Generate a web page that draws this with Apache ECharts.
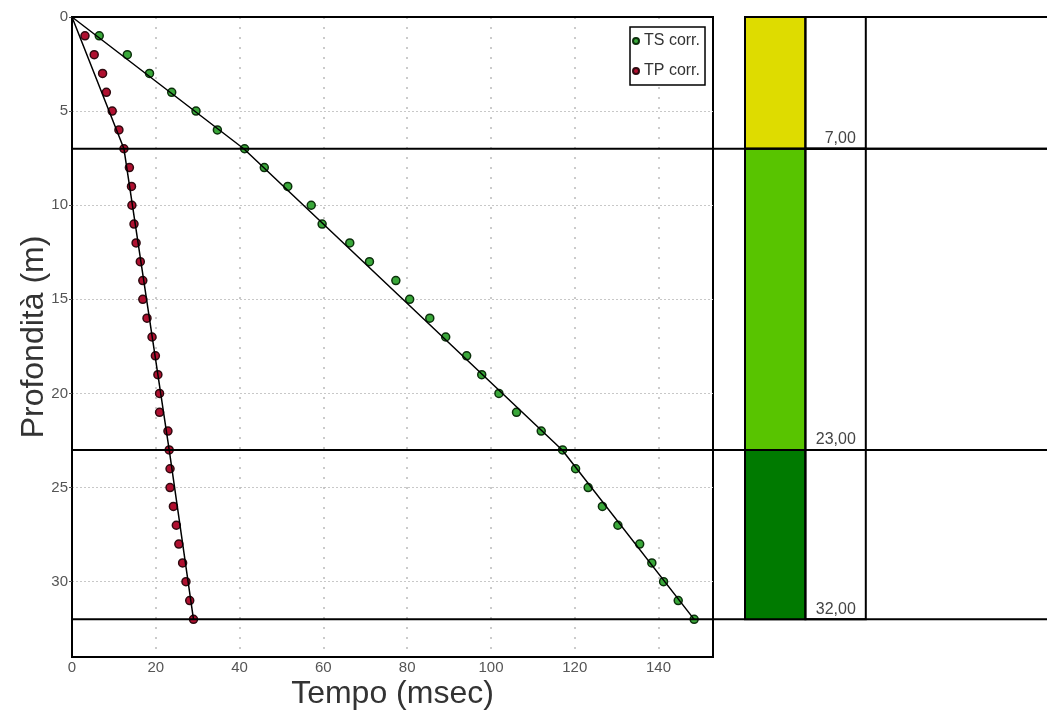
<!DOCTYPE html>
<html>
<head>
<meta charset="utf-8">
<script src="https://cdn.jsdelivr.net/npm/echarts@6/dist/echarts.min.js"></script>
<style>
  html, body { margin: 0; padding: 0; background: #fff; }
  #chart { width: 1047px; height: 713px; }
</style>
</head>
<body>
<div id="chart"></div>
<script>
// Depth of each reading (m)
const depths = [1, 2, 3, 4, 5, 6, 7, 8, 9, 10, 11, 12, 13, 14, 15, 16,
    17, 18, 19, 20, 21, 22, 23, 24, 25, 26, 27, 28, 29, 30, 31, 32];
// Corrected S-wave arrival times (msec)
const tsTimes = [6.5, 13.2, 18.5, 23.8, 29.6, 34.7, 41.2, 45.9, 51.5, 57.1, 59.7, 66.3,
    71.0, 77.3, 80.6, 85.4, 89.2, 94.2, 97.8, 101.9, 106.1, 112.0, 117.1, 120.2,
    123.2, 126.6, 130.3, 135.5, 138.4, 141.2, 144.7, 148.5];
// Corrected P-wave arrival times (msec)
const tpTimes = [3.1, 5.3, 7.3, 8.2, 9.6, 11.2, 12.4, 13.7, 14.2, 14.3, 14.8, 15.3,
    16.3, 16.9, 16.9, 17.9, 19.1, 19.9, 20.5, 20.9, 20.9, 22.9, 23.2, 23.4,
    23.4, 24.2, 24.9, 25.5, 26.4, 27.2, 28.1, 29.0];
// Fitted travel-time polylines: [time, depth]
const tsFit = [[0, 0], [41, 7], [117, 23], [148.5, 32]];
const tpFit = [[0, 0], [12.4, 7], [23.2, 23], [29, 32]];
// Layers (m)
const layerTops = [0, 7, 23];
const layerBottoms = [7, 23, 32];
const layerLabels = ['7,00', '23,00', '32,00'];

const LAYER_COLORS = ['#dedc00', '#58c400', '#007a00'];
const FONT = '"Liberation Sans", Arial, sans-serif';

const tsData = depths.map((d, i) => [tsTimes[i], d]);
const tpData = depths.map((d, i) => [tpTimes[i], d]);
const layerData = layerTops.map((t, i) => [t, layerBottoms[i], i]);
const boundaryData = layerBottoms.map(b => [0, b]);

const chart = echarts.init(document.getElementById('chart'));

const option = {
    backgroundColor: '#fff',
    animation: false,
    textStyle: { fontFamily: FONT },
    legend: {
        data: ['TS corr.', 'TP corr.'],
        orient: 'vertical',
        left: 630,
        top: 27,
        itemWidth: 6,
        itemHeight: 6,
        itemGap: 14,
        padding: [6, 5, 6, 2],
        borderColor: '#000',
        borderWidth: 1.5,
        backgroundColor: '#fff',
        textStyle: { fontSize: 16, color: '#333', fontFamily: FONT }
    },
    grid: [
        { left: 72, right: 334, top: 17, bottom: 56, show: true, borderColor: '#000', borderWidth: 2, outerBoundsMode: 'none' },
        { left: 745, right: 0, top: 17, bottom: 56, outerBoundsMode: 'none' }
    ],
    xAxis: [
        {
            gridIndex: 0,
            type: 'value',
            min: 0,
            max: 153,
            interval: 20,
            name: 'Tempo (msec)',
            nameLocation: 'middle',
            nameGap: 21,
            nameMoveOverlap: false,
            nameTextStyle: { fontSize: 32, color: '#333', verticalAlign: 'top', fontFamily: FONT },
            axisLine: { lineStyle: { color: '#000', width: 2 } },
            axisTick: { show: false },
            axisLabel: { fontSize: 15, color: '#555', margin: 3, showMaxLabel: false, fontFamily: FONT },
            splitLine: { show: true, showMinLine: false, showMaxLine: false, lineStyle: { color: '#bbb', type: [2, 8], width: 1.5 } }
        },
        { gridIndex: 1, type: 'value', min: 0, max: 5, show: false }
    ],
    yAxis: [
        {
            gridIndex: 0,
            type: 'value',
            inverse: true,
            min: 0,
            max: 34,
            interval: 5,
            name: 'Profondità (m)',
            nameLocation: 'middle',
            nameGap: 22,
            nameMoveOverlap: false,
            nameRotate: 90,
            nameTextStyle: { fontSize: 32, color: '#333', fontFamily: FONT },
            axisLine: { lineStyle: { color: '#000', width: 2 } },
            axisTick: { show: true, length: 3, lineStyle: { color: '#555' } },
            axisLabel: { fontSize: 15, color: '#555', margin: 4, showMaxLabel: false, fontFamily: FONT },
            splitLine: { show: true, showMinLine: false, showMaxLine: false, lineStyle: { color: '#c8c8c8', type: [2, 2] } }
        },
        { gridIndex: 1, type: 'value', inverse: true, min: 0, max: 34, show: false }
    ],
    series: [
        {
            name: 'TS corr.',
            type: 'scatter',
            xAxisIndex: 0,
            yAxisIndex: 0,
            data: tsData,
            symbol: 'circle',
            symbolSize: 8,
            z: 2,
            itemStyle: { color: '#3aa83a', borderColor: '#0c300c', borderWidth: 1.5, opacity: 1 }
        },
        {
            name: 'TP corr.',
            type: 'scatter',
            xAxisIndex: 0,
            yAxisIndex: 0,
            data: tpData,
            symbol: 'circle',
            symbolSize: 8,
            z: 2,
            itemStyle: { color: '#b01030', borderColor: '#300a10', borderWidth: 1.5, opacity: 1 }
        },
        {
            name: 'TS fit',
            type: 'line',
            xAxisIndex: 0,
            yAxisIndex: 0,
            data: tsFit,
            showSymbol: false,
            z: 3,
            lineStyle: { color: '#000', width: 1.5 }
        },
        {
            name: 'TP fit',
            type: 'line',
            xAxisIndex: 0,
            yAxisIndex: 0,
            data: tpFit,
            showSymbol: false,
            z: 3,
            lineStyle: { color: '#000', width: 1.5 }
        },
        {
            // layer boundaries run across the whole picture
            name: 'boundaries',
            type: 'custom',
            xAxisIndex: 0,
            yAxisIndex: 0,
            data: boundaryData,
            clip: false,
            z: 4,
            renderItem: function (params, api) {
                const p = api.coord([api.value(0), api.value(1)]);
                return {
                    type: 'line',
                    shape: { x1: p[0], y1: p[1], x2: api.getWidth(), y2: p[1] },
                    style: { stroke: '#000', lineWidth: 2 }
                };
            }
        },
        {
            name: 'layers',
            type: 'custom',
            xAxisIndex: 1,
            yAxisIndex: 1,
            data: layerData,
            clip: false,
            z: 5,
            renderItem: function (params, api) {
                const t = api.value(0);
                const b = api.value(1);
                const i = api.value(2);
                const p0 = api.coord([0, t]);
                const p1 = api.coord([1, b]);
                const p2 = api.coord([2, b]);
                return {
                    type: 'group',
                    children: [
                        {
                            type: 'rect',
                            shape: { x: p0[0], y: p0[1], width: p1[0] - p0[0], height: p1[1] - p0[1] },
                            style: { fill: LAYER_COLORS[i], stroke: '#000', lineWidth: 2 }
                        },
                        {
                            type: 'rect',
                            shape: { x: p1[0], y: p0[1], width: p2[0] - p1[0], height: p1[1] - p0[1] },
                            style: { fill: 'none', stroke: '#000', lineWidth: 2 }
                        },
                        {
                            type: 'line',
                            shape: { x1: p0[0], y1: p0[1], x2: api.getWidth(), y2: p0[1] },
                            style: { stroke: '#000', lineWidth: 2 }
                        },
                        {
                            type: 'text',
                            style: {
                                text: layerLabels[i],
                                x: p2[0] - 10,
                                y: p1[1] - 2,
                                align: 'right',
                                verticalAlign: 'bottom',
                                fill: '#444',
                                font: '16px ' + FONT
                            }
                        }
                    ]
                };
            }
        }
    ]
};

chart.setOption(option);
</script>
</body>
</html>
